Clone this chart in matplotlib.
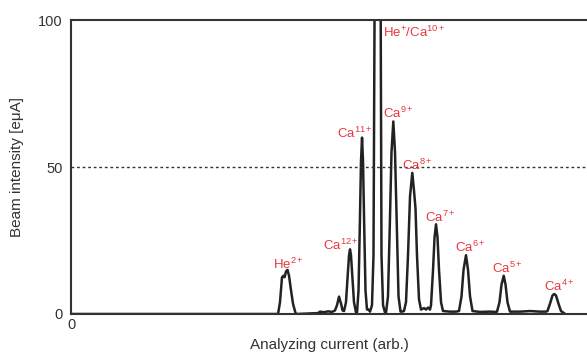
import matplotlib
matplotlib.use("Agg")
import matplotlib.pyplot as plt

plt.rcParams['font.family'] = ['Liberation Sans', 'DejaVu Sans']
plt.rcParams['mathtext.fontset'] = 'custom'
plt.rcParams['mathtext.rm'] = 'Liberation Sans'
plt.rcParams['mathtext.it'] = 'Liberation Sans'

# spectrum (analyzing current in arb. units, beam intensity in euA)
current = [0, 39.53, 40.12, 40.50, 40.89, 41.18, 41.38, 41.67, 41.96, 42.25, 42.64, 43.02, 43.51, 43.80,
           47.87, 48.26, 49.03, 49.81, 50.58, 51.16, 51.55, 51.94, 52.33, 52.62,
           52.91, 53.29, 53.58, 53.88, 54.07, 54.26, 54.55, 54.84, 55.23,
           55.43, 55.72, 55.97, 56.20, 56.40, 56.59, 56.82, 57.07, 57.36,
           57.66, 57.95, 58.33, 58.62, 58.82, 58.91, 59.88, 60.02, 60.17, 60.47, 60.85,
           61.05, 61.43, 61.78, 62.11, 62.46, 62.79, 63.14, 63.47, 63.86,
           64.15, 64.53, 64.92, 65.31, 65.70, 66.14, 66.47, 66.76, 67.05, 67.44, 67.83,
           68.41, 68.80, 69.19, 69.57,
           69.77, 70.16, 70.45, 70.74, 71.03, 71.32, 71.71, 72.09,
           73.45, 74.61,
           75.19, 75.68, 76.07, 76.55, 76.94, 77.33, 77.81,
           79.26, 81.20, 82.36,
           82.56, 83.04, 83.43, 83.86, 84.21, 84.59, 85.08,
           87.02, 88.95, 90.89, 92.05,
           92.34, 92.83, 93.31, 93.66, 93.99, 94.48, 94.96, 95.54]
intensity = [0, 0, 0, 4, 12.5, 13, 12.5, 14.5, 15, 13, 8, 3.5, 0.3, 0,
             0.3, 0.8, 0.6, 0.9, 0.7, 1.2, 3, 5.9, 3.5, 1.2,
             1.0, 4, 12, 20, 22, 20, 12, 4, 0.5,
             0.5, 8, 30, 52, 60, 52, 30, 8, 1.5,
             1.5, 0.8, 3, 20, 100, 160, 160, 100, 20, 3, 0.5,
             0.5, 6, 30, 55, 65.5, 55, 30, 6, 0.8,
             0.8, 1.0, 4, 20, 40, 48, 42, 36, 20, 5, 1.5,
             2, 1.5, 2.2, 1.5,
             3, 15, 26, 30.5, 26, 15, 4, 1,
             0.8, 0.8,
             1, 6, 15, 20, 15, 6, 1,
             0.7, 0.8, 0.7,
             0.8, 4, 10, 13, 10, 4, 0.8,
             0.8, 1.0, 0.8, 0.8,
             1, 3.5, 6.3, 6.8, 6.3, 3.5, 1, 0.3]

# ion labels and where they sit
ion_labels = [r'He$^{2+}$', r'Ca$^{12+}$', r'Ca$^{11+}$', r'He$^{+}$/Ca$^{10+}$', r'Ca$^{9+}$',
              r'Ca$^{8+}$', r'Ca$^{7+}$', r'Ca$^{6+}$', r'Ca$^{5+}$', r'Ca$^{4+}$']
label_x = [42.2, 52.4, 55.0, 60.4, 63.4, 67.2, 71.5, 77.3, 84.6, 94.7]
label_y = [17.0, 23.5, 61.6, 95.9, 68.4, 50.4, 32.9, 22.7, 15.5, 9.5]

fig = plt.figure(figsize=(5.87, 3.52), dpi=100)
ax = fig.add_axes([0.121, 0.108, 0.879, 0.835])

ax.plot(current, intensity, color='#222222', lw=1.8, clip_on=True)
ax.axhline(50, color='#333333', lw=1.0, ls=(0, (2, 2)))

for lab, lx, ly in zip(ion_labels, label_x, label_y):
    ha = 'left' if '/' in lab else 'center'
    ax.text(lx, ly, lab, color='#e8383d', fontsize=9.5, ha=ha, va='center')

ax.set_xlim(0, 100)
ax.set_ylim(0, 100)
ax.set_xticks([0])
ax.set_yticks([0, 50, 100])
ax.tick_params(length=0, labelsize=10.5, colors='#333333')
ax.tick_params(axis='y', pad=6)
ax.tick_params(axis='x', pad=3)

for side in ['left', 'top', 'bottom']:
    ax.spines[side].set_color('#333333')
    ax.spines[side].set_linewidth(1.5)
ax.spines['right'].set_visible(False)

ax.set_xlabel('Analyzing current (arb.)', fontsize=11, color='#333333', labelpad=4)
ax.set_ylabel('Beam intensity [eμA]', fontsize=11, color='#333333', labelpad=10)

fig.savefig('out.png', dpi=100)
